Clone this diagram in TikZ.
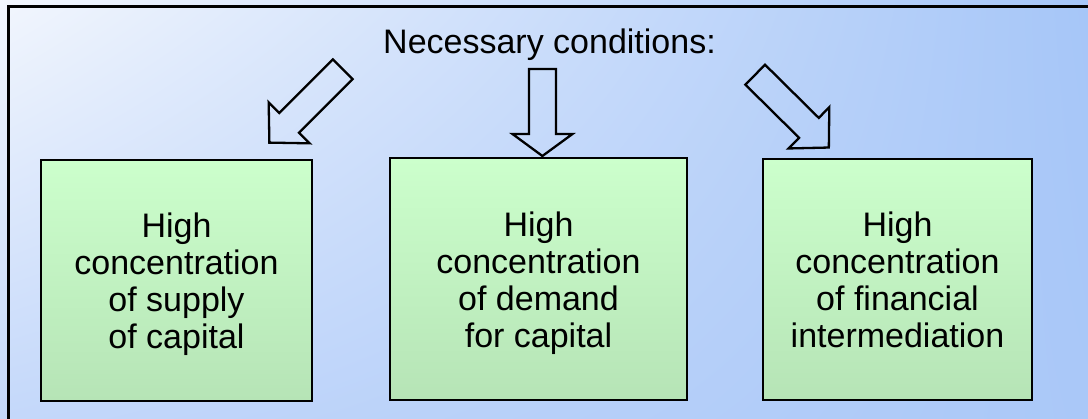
\documentclass[tikz,border=0pt]{standalone}
\usepackage{fontspec}
\setmainfont{Liberation Sans}
\usetikzlibrary{calc,shadings}

\definecolor{bgtl}{RGB}{242,246,253}
\definecolor{bgtr}{RGB}{166,198,248}
\definecolor{bgbl}{RGB}{196,216,250}
\definecolor{bgbr}{RGB}{170,200,248}
\definecolor{boxtop}{RGB}{204,255,204}
\definecolor{boxbot}{RGB}{182,228,182}

% block arrow from tail #1 to tip #2:
% #3 shaft half width, #4 head half width, #5 head length
\newcommand\blockarrow[5]{%
  \draw[arrowline] let \p1=(#1), \p2=(#2),
      \n1={atan2(\y2-\y1,\x2-\x1)}, \n2={veclen(\x2-\x1,\y2-\y1)} in
    [shift={(\p1)}, rotate=\n1]
    (0,-#3) -- (\n2-#5,-#3) -- (\n2-#5,-#4) -- (\n2,0)
    -- (\n2-#5,#4) -- (\n2-#5,#3) -- (0,#3) -- cycle;}
% taller first line, so the text block sits a little lower in its box
\newcommand\firstline{\rule{0pt}{32.5pt}}

\begin{document}
\begin{tikzpicture}[x=1pt,y=-1pt,
  txt/.style={font=\fontsize{34}{37}\selectfont, align=center},
  condbox/.style={txt, draw=black, line width=2pt, top color=boxtop,
    bottom color=boxbot, inner sep=0pt},
  arrowline/.style={draw=black, line width=2.3pt, line join=miter}]

\useasboundingbox (0,0) rectangle (1088,419);
\clip (0,0) rectangle (1088,419);

% background and frame
\shade[upper left=bgtl, upper right=bgtr, lower left=bgbl, lower right=bgbr]
  (0,0) rectangle (1088,419);
\draw[line width=2.7pt] (8.7,6.7) rectangle (1100,430);

% heading
\node[txt, anchor=base] (title) at (549.5,54) {Necessary conditions:};

% the three conditions
\node[condbox, minimum width=271pt, minimum height=241pt] (b1) at (176.5,280.5)
  {\firstline High\\concentration\\of supply\\of capital};
\node[condbox, minimum width=297pt, minimum height=242pt] (b2) at (538.5,279)
  {\firstline High\\concentration\\of demand\\for capital};
\node[condbox, minimum width=269pt, minimum height=241pt] (b3) at (897.5,279.5)
  {\firstline High\\concentration\\of financial\\intermediation\vphantom{p}};

% block arrows from the heading towards the boxes
\coordinate (t1) at (342.7,69.3);  \coordinate (h1) at (269.3,142.7);
\coordinate (t2) at (542.5,69);    \coordinate (h2) at (542.4,156);
\coordinate (t3) at (755.2,74.7);  \coordinate (h3) at (829,147.7);

\blockarrow{t1}{h1}{14}{29}{28}
\blockarrow{t2}{h2}{13.5}{30}{22}
\blockarrow{t3}{h3}{14}{29}{28}
\end{tikzpicture}
\end{document}
